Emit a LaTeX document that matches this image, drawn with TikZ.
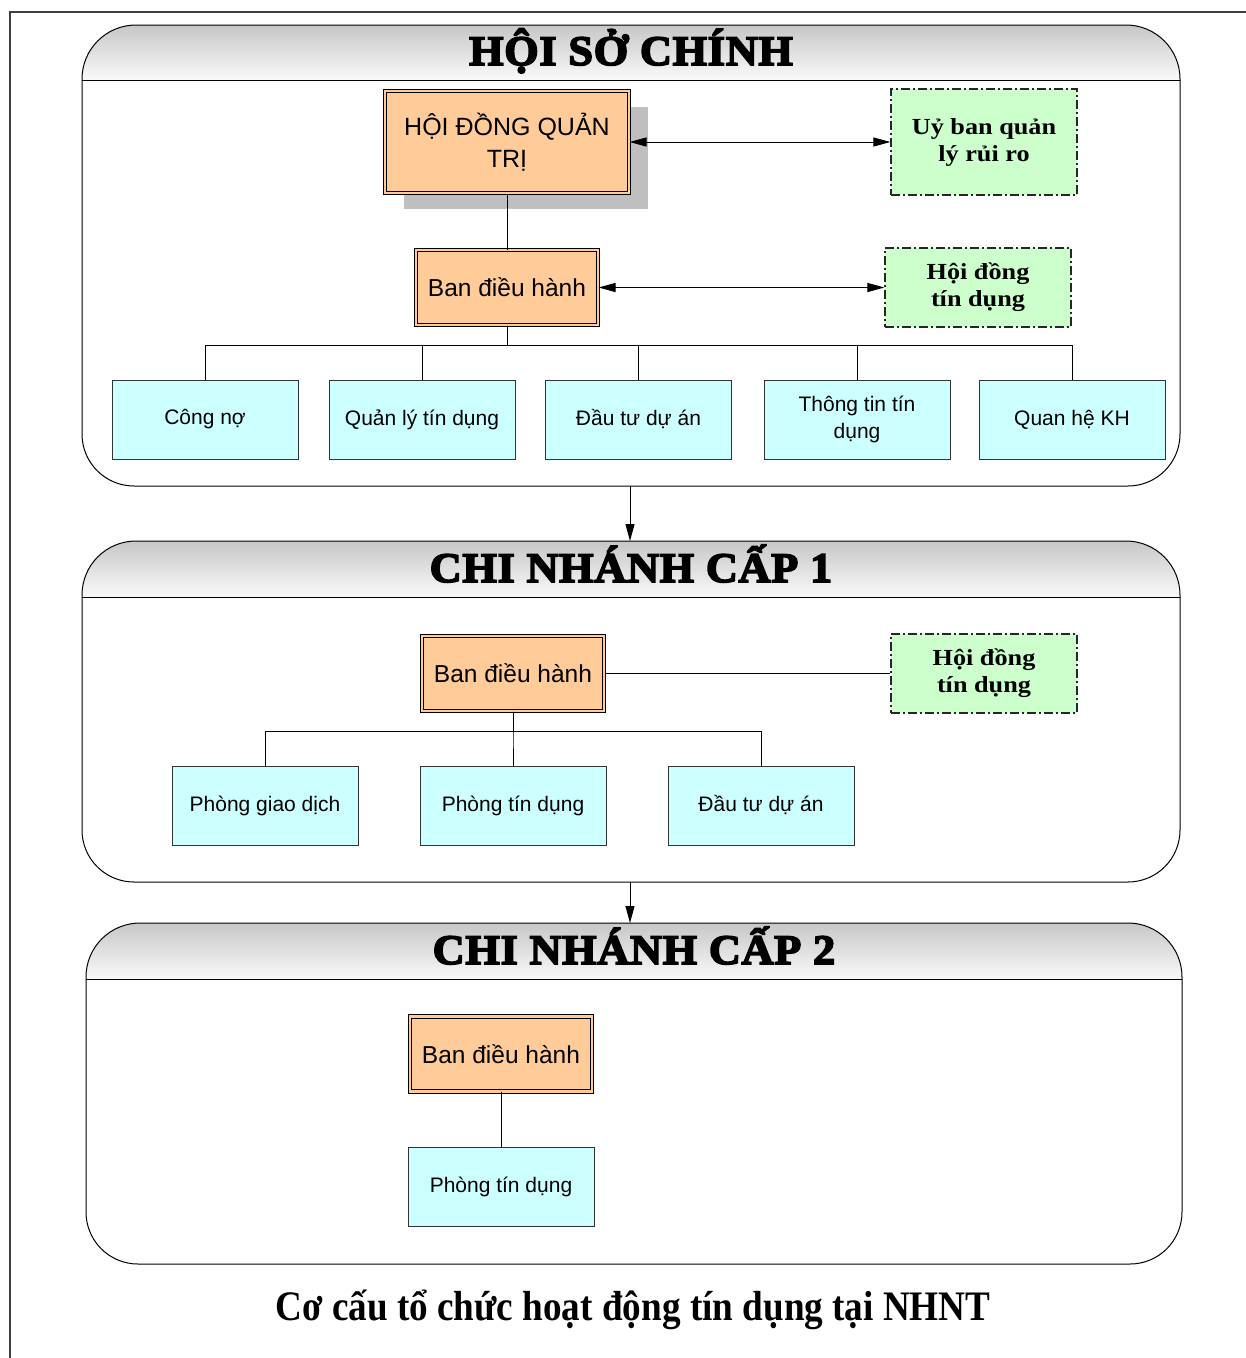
\documentclass[tikz,border=0pt]{standalone}
\usepackage{fontspec}
\setmainfont{Liberation Serif}
\setsansfont{Liberation Sans}
\newfontfamily\titlefont[FakeBold=4,FakeStretch=1.05,LetterSpace=2]{Liberation Serif Bold}
\newfontfamily\captionfont[FakeStretch=0.885]{Liberation Serif Bold}
\newfontfamily\hoidongfont[FakeStretch=1.14]{Liberation Serif Bold}
\usetikzlibrary{arrows.meta,shadows}

\definecolor{camnhat}{HTML}{FFCC99}
\definecolor{xanhla}{HTML}{CCFFCC}
\definecolor{xanhnhat}{HTML}{CCFFFF}

\tikzset{
  bandieuhanh/.style={draw=black, line width=1pt, double=camnhat, double distance=2.5pt,
    fill=camnhat, minimum width=182pt, minimum height=75pt, inner sep=2pt, align=center,
    font=\sffamily\fontsize{24.5}{30}\selectfont},
  phong/.style={draw=black!80, line width=1pt, fill=xanhnhat, minimum width=186pt,
    minimum height=79pt, inner sep=2pt, align=center, font=\sffamily\fontsize{21}{27}\selectfont},
  hoidong/.style={draw=black!85, line width=1.2pt, dash pattern=on 9pt off 3pt on 2pt off 3pt,
    fill=xanhla, minimum width=186pt, minimum height=79pt, inner sep=2pt, align=center,
    font=\hoidongfont\fontsize{23}{27}\selectfont},
  dauban/.style={line width=1pt, top color=black!22, bottom color=black!2},
  ketnoi/.style={draw=black, line width=1pt},
  muiten/.style={line width=1pt, -{Triangle[length=17pt,width=9pt]}},
  haimui/.style={line width=1pt, {Triangle[length=17pt,width=9pt]}-{Triangle[length=17pt,width=9pt]}}
}

\begin{document}
\begin{tikzpicture}[x=1pt,y=-1pt]
\useasboundingbox (0,0) rectangle (1246,1358);
\fill[white] (0,0) rectangle (1246,1358);
% khung ngoai
\draw[black!75, line width=2pt] (10,1358) -- (10,12) -- (1246,12);

% ba khoi: hoi so, chi nhanh cap 1, chi nhanh cap 2
\foreach \l/\r/\t/\h/\b/\ten [count=\i] in {82/1180/25/80/486/HỘI SỞ CHÍNH,
    82/1180/541/597/882/CHI NHÁNH CẤP 1, 86/1182/923/979/1264/CHI NHÁNH CẤP 2}
{
  \shade[dauban, rounded corners=54pt] (\l,\h) -- (\l,\t) -- (\r,\t) -- (\r,\h);
  \draw[line width=1pt, rounded corners=54pt] (\l,\h) -- (\l,\t) -- (\r,\t) -- (\r,\h);
  \draw[line width=1pt, rounded corners=52pt] (\l,\h) -- (\l,\b) -- (\r,\b) -- (\r,\h);
  \draw[line width=1pt] (\l,\h) -- (\r,\h);
  \node[anchor=base, font=\titlefont\fontsize{42}{44}\selectfont] (tieude\i) at ({(\l+\r)/2},\h-15) {\ten};
  \coordinate (tren\i) at (630,\t);
  \coordinate (duoi\i) at (630,\b);
}

% hoi so chinh
\node[bandieuhanh, minimum width=244pt, minimum height=102pt, font=\sffamily\fontsize{25}{32}\selectfont,
  drop shadow={shadow xshift=19pt, shadow yshift=-16pt, fill=black!25, opacity=1}]
  (hdqt) at (507,142) {HỘI ĐỒNG QUẢN\\TRỊ};
\node[hoidong, minimum height=106pt] (uyban) at (984,142) {Uỷ ban quản\\lý rủi ro};
\node[bandieuhanh] (bdh1) at (507,287.5) {Ban điều hành};
\node[hoidong] (hdtd1) at (978,287.5) {Hội đồng\\tín dụng};
\draw[haimui] (hdqt.east) -- (uyban.west);
\draw[ketnoi] (hdqt.south) -- (bdh1.north);
\draw[haimui] (bdh1.east) -- (hdtd1.west);
\foreach \ten/\x/\chu in {congno/205/Công nợ, qltd/422/Quản lý tín dụng, dtda1/638.5/Đầu tư dự án,
    tttd/857/Thông tin tín\\dụng, qhkh/1072/Quan hệ KH}
{
  \node[phong] (\ten) at (\x,419.5) {\chu};
  \draw[ketnoi] (bdh1.south) -- ++(0,20) -| (\ten.north);
}

% chi nhanh cap 1
\node[bandieuhanh] (bdh2) at (513,673.5) {Ban điều hành};
\node[hoidong] (hdtd2) at (984,673.5) {Hội đồng\\tín dụng};
\draw[ketnoi] (bdh2.east) -- (hdtd2.west);
\foreach \ten/\x/\chu in {pgd/265/Phòng giao dịch, ptd2/513/Phòng tín dụng, dtda2/761/Đầu tư dự án}
{
  \node[phong] (\ten) at (\x,805.5) {\chu};
  \draw[ketnoi] (bdh2.south) -- ++(0,20) -| (\ten.north);
}

% chi nhanh cap 2
\node[bandieuhanh] (bdh3) at (501,1054) {Ban điều hành};
\node[phong] (ptd3) at (501,1186.5) {Phòng tín dụng};
\draw[ketnoi] (bdh3.south) -- (ptd3.north);

% mui ten giua cac cap
\draw[muiten] (duoi1) -- (tren2);
\draw[muiten] (duoi2) -- (tren3);

\node[font=\captionfont\fontsize{42}{44}\selectfont] (chuthich) at (633,1310) {Cơ cấu tổ chức hoạt động tín dụng tại NHNT};
\end{tikzpicture}
\end{document}
